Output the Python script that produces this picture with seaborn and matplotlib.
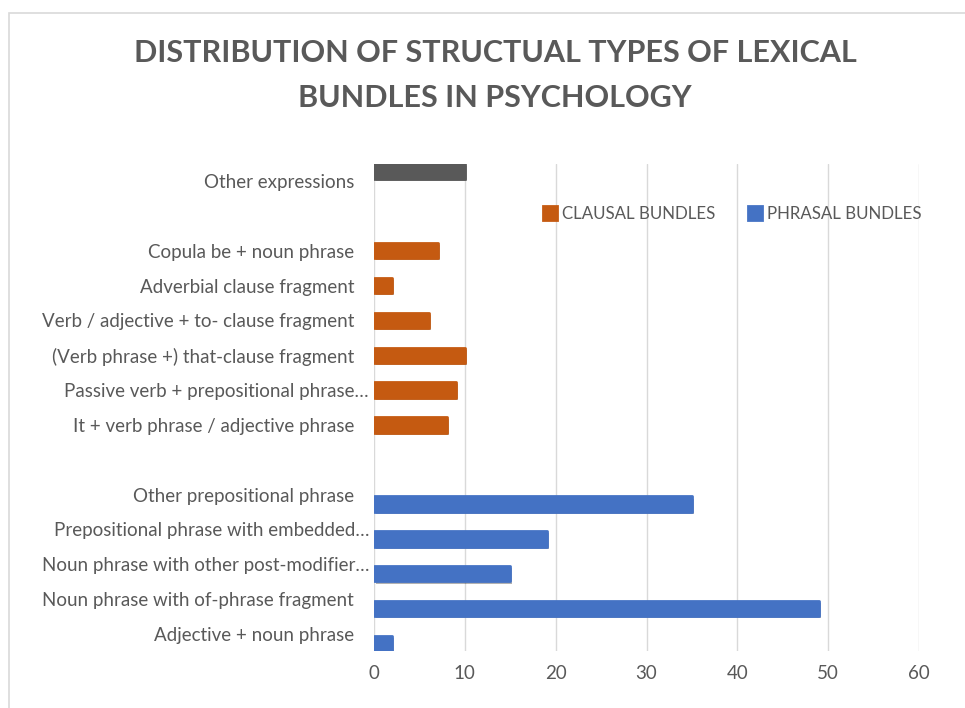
import matplotlib
matplotlib.use("Agg")
import matplotlib.pyplot as plt
import matplotlib.patheffects as pe
import matplotlib.transforms as mtransforms
from matplotlib.patches import Patch, Rectangle
import seaborn as sns
import pandas as pd

categories = [
    "Other expressions", " ",
    "Copula be + noun phrase", "Adverbial clause fragment",
    "Verb / adjective + to- clause fragment", "(Verb phrase +) that-clause fragment",
    "Passive verb + prepositional phrase\u2026", "It + verb phrase / adjective phrase",
    "  ",
    "Other prepositional phrase", "Prepositional phrase with embedded\u2026",
    "Noun phrase with other post-modifier\u2026", "Noun phrase with of-phrase fragment",
    "Adjective + noun phrase",
]
other_labels = ["Other expressions"]
other_values = [10]
clausal_labels = ["Copula be + noun phrase", "Adverbial clause fragment",
                  "Verb / adjective + to- clause fragment", "(Verb phrase +) that-clause fragment",
                  "Passive verb + prepositional phrase\u2026", "It + verb phrase / adjective phrase"]
clausal_values = [7, 2, 6, 10, 9, 8]
phrasal_labels = ["Other prepositional phrase", "Prepositional phrase with embedded\u2026",
                  "Noun phrase with other post-modifier\u2026", "Noun phrase with of-phrase fragment",
                  "Adjective + noun phrase"]
phrasal_values = [35, 19, 15, 49, 2]
series = ["OTHER", "CLAUSAL BUNDLES", "PHRASAL BUNDLES"]
colors = {"OTHER": "#595959", "CLAUSAL BUNDLES": "#C55A11", "PHRASAL BUNDLES": "#4472C4"}
xticks = [0, 10, 20, 30, 40, 50, 60]
title_lines = ["DISTRIBUTION OF STRUCTUAL TYPES OF LEXICAL", "BUNDLES IN PSYCHOLOGY"]

rows = []
for lab, v in zip(other_labels, other_values):
    rows.append((lab, v, series[0]))
for lab, v in zip(clausal_labels, clausal_values):
    rows.append((lab, v, series[1]))
for lab, v in zip(phrasal_labels, phrasal_values):
    rows.append((lab, v, series[2]))
df = pd.DataFrame(rows, columns=["category", "value", "series"])

sns.set_theme(style="white")
plt.rcParams["font.family"] = ["Lato", "DejaVu Sans"]
text_color = "#595959"

W, H = 965, 708
fig = plt.figure(figsize=(W / 100, H / 100), dpi=100)
ax = fig.add_axes([374 / W, 1 - 651.4 / H, (919 - 374) / W, (651.4 - 163.6) / H])

sns.barplot(data=df, y="category", x="value", hue="series", order=categories,
            hue_order=series, palette=colors, orient="h", dodge=True, width=0.82,
            saturation=1, legend=False, ax=ax, errorbar=None)

bar_h = 0.44
for p in ax.patches:
    c = p.get_y() + p.get_height() / 2
    p.set_y(c - bar_h / 2)
    p.set_height(bar_h)
    p.set_edgecolor(p.get_facecolor())
    p.set_linewidth(2)
    p.set_joinstyle("round")
    p.set_path_effects([pe.SimplePatchShadow(offset=(1.5, -1.5), shadow_rgbFace="black", alpha=0.3),
                        pe.Normal()])

ax.set_xlim(0, 60)
ax.set_ylim(13.5, -0.5)
ax.set_xticks(xticks)
ax.set_xticklabels([str(t) for t in xticks])
ax.grid(axis="x", color="#d9d9d9", linewidth=1)
ax.set_axisbelow(True)
for s in ax.spines.values():
    s.set_visible(False)
ax.set_xlabel("")
ax.set_ylabel("")
ax.tick_params(axis="x", length=0, pad=10, labelsize=13.5, labelcolor=text_color)
ax.tick_params(axis="y", length=0, pad=14.4, labelsize=13.5, labelcolor=text_color)

shift = mtransforms.ScaledTranslation(15 / 100, 0, fig.dpi_scale_trans)
for lbl in ax.get_yticklabels():
    if lbl.get_text().endswith("\u2026"):
        lbl.set_transform(lbl.get_transform() + shift)

handles = [Patch(facecolor=colors[s], edgecolor=colors[s], linewidth=2, joinstyle="round", label=s)
           for s in series[1:]]
fig.legend(handles=handles, loc="center left", bbox_to_anchor=(543 / W, 1 - 214 / H),
           ncol=2, frameon=False, fontsize=12.2, labelcolor=text_color,
           handlelength=0.85, handleheight=0.85, handletextpad=0.3, columnspacing=1.9,
           borderaxespad=0, borderpad=0)

fig.text(495 / W, 1 - 53 / H, title_lines[0], ha="center", va="center", fontsize=22,
         fontweight="bold", color=text_color)
fig.text(495 / W, 1 - 98 / H, title_lines[1], ha="center", va="center", fontsize=22,
         fontweight="bold", color=text_color)

fig.patches.append(Rectangle((9 / W, -0.1), 1.2, 1.1 - 13 / H, transform=fig.transFigure,
                             fill=False, edgecolor="#d9d9d9", linewidth=1.2, figure=fig))

fig.savefig("out.png", dpi=100)
